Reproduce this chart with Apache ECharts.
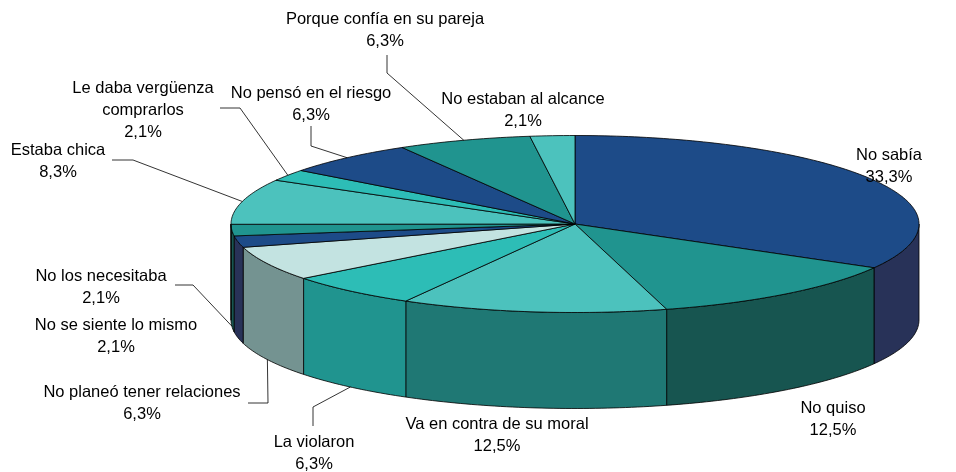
<!DOCTYPE html>
<html>
<head>
<meta charset="utf-8">
<script src="https://cdn.jsdelivr.net/npm/echarts@6/dist/echarts.min.js"></script>
<style>
  html, body { margin: 0; padding: 0; background: #fff; }
  #chart { width: 956px; height: 472px; }
</style>
</head>
<body>
<div id="chart"></div>
<script>
// datos
var categories = ['No sabía', 'No quiso', 'Va en contra de su moral', 'La violaron',
  'No planeó tener relaciones', 'No se siente lo mismo', 'No los necesitaba', 'Estaba chica',
  'Le daba vergüenza\ncomprarlos', 'No pensó en el riesgo', 'Porque confía en su pareja',
  'No estaban al alcance'];
var values = [33.3, 12.5, 12.5, 6.3, 6.3, 2.1, 2.1, 8.3, 2.1, 6.3, 6.3, 2.1];

// colores (cara superior / pared)
var topColors = ['#1D4B88', '#20948F', '#4CC2BD', '#2DBDB6', '#C3E3E1', '#1D4B88',
  '#20948F', '#4CC2BD', '#2DBDB6', '#1D4B88', '#20948F', '#4CC2BD'];
var wallColors = ['#283258', '#175550', '#1F7874', '#20948F', '#749391', '#283258',
  '#175550', '#1F7874', '#20948F', '#283258', '#175550', '#1F7874'];

// posiciones de etiquetas: centro del texto y codo de la guía (null = sin guía)
var labelPos = [[889, 166], [833, 419], [497, 435], [314, 453], [142, 403], [116, 336],
  [101, 287], [58, 161], [143, 110], [311, 104], [385, 30], [523, 110]];
var leaderPts = [null, null, null, [[313, 426], [313, 407]], [[248, 403], [268, 403]], null,
  [[175, 285], [193, 285]], [[112, 160], [133, 160]], [[220, 108], [240, 108]],
  [[311, 126], [311, 146]], [[387, 55], [387, 73]], null];

var cx = 575, cy = 224, rx = 344, ry = 88.5, depth = 96;

var total = values.reduce(function (a, b) { return a + b; }, 0);
var starts = [];
var acc = 0;
values.forEach(function (v) { starts.push(acc / total); acc += v; });

function pt(t, dy) {
  return [cx + rx * Math.sin(t), cy - ry * Math.cos(t) + (dy || 0)];
}
function arc(t0, t1, dy) {
  var pts = [];
  var n = Math.max(2, Math.ceil((t1 - t0) / (Math.PI / 180)));
  for (var i = 0; i <= n; i++) pts.push(pt(t0 + (t1 - t0) * i / n, dy));
  return pts;
}
function fmt(v) { return v.toFixed(1).replace('.', ',') + '%'; }

function renderItem(params, api) {
  var i = params.dataIndex;
  var v = api.value(0);
  var t0 = starts[i] * 2 * Math.PI;
  var t1 = t0 + v / total * 2 * Math.PI;
  var children = [];
  // pared frontal (entre 90° y 270° desde arriba)
  var w0 = Math.max(t0, Math.PI / 2), w1 = Math.min(t1, 3 * Math.PI / 2);
  if (w1 > w0) {
    var top = arc(w0, w1, 0);
    var bot = arc(w0, w1, depth).reverse();
    children.push({
      type: 'polygon',
      shape: { points: top.concat(bot) },
      style: { fill: wallColors[i], stroke: '#000', lineWidth: 0.8 }
    });
  }
  // cara superior
  children.push({
    type: 'polygon',
    shape: { points: [[cx, cy]].concat(arc(t0, t1, 0)) },
    style: { fill: topColors[i], stroke: '#000', lineWidth: 0.8 }
  });
  // guía
  if (leaderPts[i]) {
    var tm = (t0 + t1) / 2;
    var onWall = tm > Math.PI / 2 && tm < 3 * Math.PI / 2;
    var end = pt(tm, onWall ? depth : 0);
    children.push({
      type: 'polyline',
      shape: { points: leaderPts[i].concat([end]) },
      style: { stroke: '#000', lineWidth: 0.8, fill: null }
    });
  }
  // etiqueta
  children.push({
    type: 'text',
    x: labelPos[i][0],
    y: labelPos[i][1],
    style: {
      text: categories[i] + '\n' + fmt(v),
      fill: '#000',
      font: '16.5px "Liberation Sans", Arial, sans-serif',
      lineHeight: 22,
      align: 'center',
      verticalAlign: 'middle'
    }
  });
  return { type: 'group', children: children };
}

var myChart = echarts.init(document.getElementById('chart'));
var option = {
  animation: false,
  backgroundColor: '#fff',
  series: [{
    type: 'custom',
    coordinateSystem: 'none',
    silent: true,
    renderItem: renderItem,
    data: values.map(function (v) { return [v]; })
  }]
};
myChart.setOption(option);
</script>
</body>
</html>
